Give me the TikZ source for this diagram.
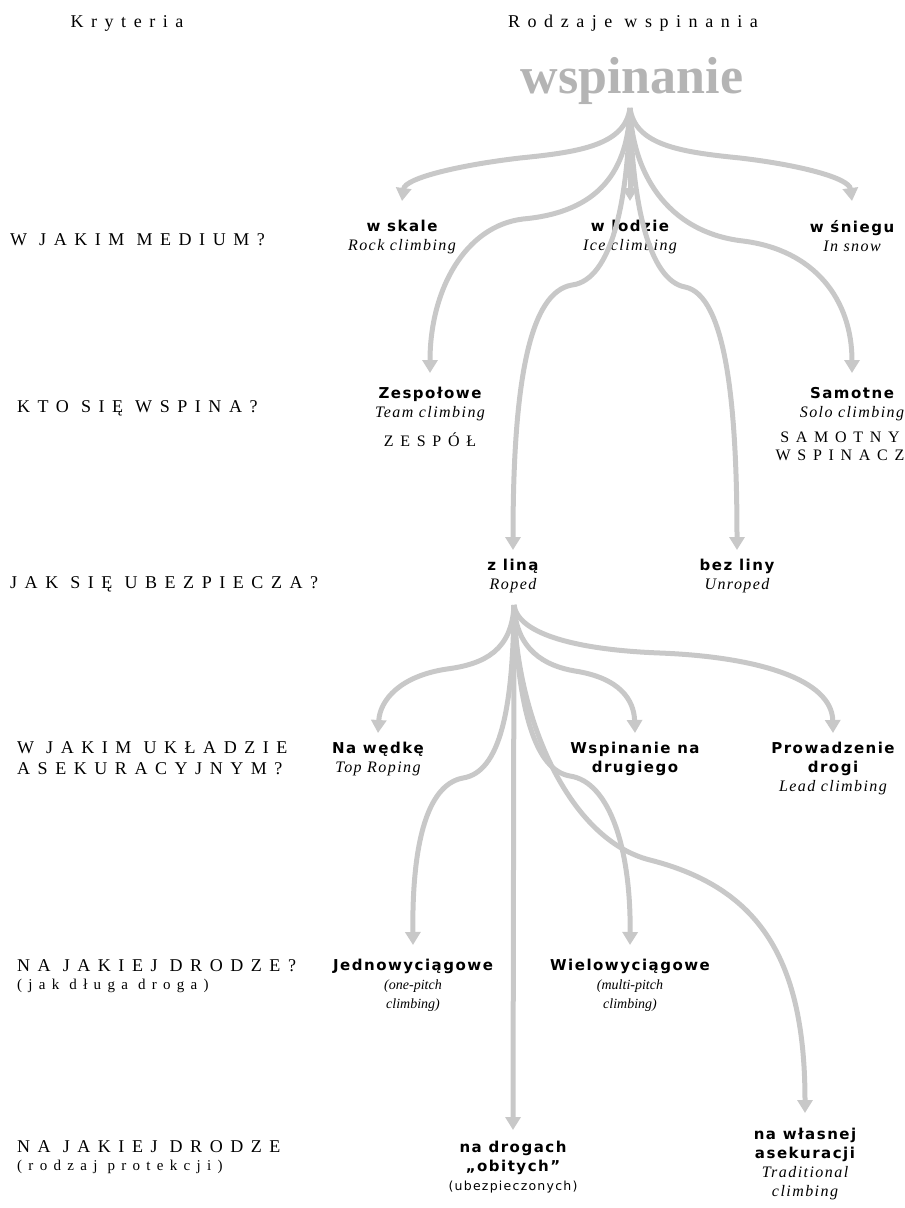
\documentclass[tikz,border=0pt]{standalone}
\usepackage{fontspec}
\setmainfont{Liberation Serif}
\newfontfamily\labelfont[LetterSpace=10]{DejaVu Sans}
\newfontfamily\critfont[LetterSpace=42]{Liberation Serif}
\newfontfamily\engfont[LetterSpace=9]{Liberation Serif}
\usetikzlibrary{arrows.meta,positioning}
\definecolor{ropegray}{RGB}{200,200,200}
\definecolor{rootgray}{RGB}{180,180,180}
\newcommand{\entxt}[1]{{\engfont\mdseries\itshape\fontsize{16}{19}\selectfont #1}}
\newcommand{\pitchtxt}[1]{{\rmfamily\mdseries\itshape\fontsize{14}{19}\selectfont #1}}

\begin{document}
\begin{tikzpicture}[x=1pt,y=-1pt,
    head/.style={anchor=base, inner sep=0pt, font=\critfont\fontsize{18}{21}\selectfont},
    crit/.style={anchor=north west, inner sep=0pt, align=left,
                 font=\critfont\fontsize{18}{21}\selectfont, execute at begin node=\strut},
    critc/.style={anchor=north, inner sep=0pt, align=center,
                  font=\critfont\fontsize{16}{21}\selectfont, execute at begin node=\strut},
    kind/.style={anchor=north, inner sep=0pt, align=center,
                 font=\labelfont\bfseries\fontsize{15}{19}\selectfont, execute at begin node=\strut},
    rope/.style={-{Triangle[length=13pt,width=15pt]}, line width=5pt, draw=ropegray}
  ]
    \useasboundingbox (0,0) rectangle (905,1208);
    % headings
    \node[head] (kryt) at (127,27) {Kryteria};
    \node[head] (rodz) at (633,27) {Rodzaje wspinania};
    \node[anchor=base, inner sep=0pt, text=rootgray,
          font=\bfseries\fontsize{52}{52}\selectfont] (root) at (632,93) {wspinanie};
    % criteria column
    \node[crit] (q1) at (10,231) {W JAKIM MEDIUM?};
    \node[crit] (q2) at (17,398) {KTO SIĘ WSPINA?};
    \node[crit] (q3) at (10,574) {JAK SIĘ UBEZPIECZA?};
    \node[crit] (q4) at (17,741) {W JAKIM UKŁADZIE\\ASEKURACYJNYM?};
    \node[crit] (q5) at (17,959) {NA JAKIEJ DRODZE?\\[-3pt]{\fontsize{15}{16}\selectfont (jak długa droga)}};
    \node[crit] (q6) at (17,1140) {NA JAKIEJ DRODZE\\[-3pt]{\fontsize{15}{16}\selectfont (rodzaj protekcji)}};
    % kinds of climbing
    \node[kind] (skale) at (402,220) {w skale\\\entxt{Rock climbing}};
    \node[kind] (lodzie) at (630,220) {w lodzie\\\entxt{Ice climbing}};
    \node[kind] (sniegu) at (852,220) {w śniegu\\\entxt{In snow}};
    \node[kind] (zesp) at (430,387) {Zespołowe\\\entxt{Team climbing}};
    \node[critc, below=8pt of zesp] (zespol) {ZESPÓŁ};
    \node[kind] (samot) at (852,387) {Samotne\\\entxt{Solo climbing}};
    \node[critc, below=8pt of samot, xshift=-12pt] (samotny) {SAMOTNY\\[-3pt]WSPINACZ};
    \node[kind] (zlina) at (513,559) {z liną\\\entxt{Roped}};
    \node[kind] (bez) at (737,559) {bez liny\\\entxt{Unroped}};
    \node[kind] (wedka) at (378,742) {Na wędkę\\\entxt{Top Roping}};
    \node[kind] (drugi) at (635,742) {Wspinanie na\\drugiego};
    \node[kind] (prow) at (833,742) {Prowadzenie\\drogi\\\entxt{Lead climbing}};
    \node[kind] (jedno) at (413,959) {Jednowyciągowe\\\pitchtxt{(one-pitch}\\\pitchtxt{climbing)}};
    \node[kind] (wielo) at (630,959) {Wielowyciągowe\\\pitchtxt{(multi-pitch}\\\pitchtxt{climbing)}};
    \node[kind] (obite) at (513,1141) {na drogach\\„obitych”\\{\mdseries\fontsize{12.5}{19}\selectfont (ubezpieczonych)}};
    \node[kind] (wlasna) at (805,1128) {na własnej\\asekuracji\\\entxt{Traditional}\\\entxt{climbing}};
    \coordinate (hub) at (630,108);
    \coordinate (hub2) at (514,605);
    % top fan
    \draw[rope] (hub) .. controls (625,145) and (580,152) .. (520,158) .. controls (460,165) and (405,178) .. ([yshift=19pt]skale.north);
    \draw[rope] (hub) -- ([yshift=19pt]lodzie.north);
    \draw[rope] (hub) .. controls (635,145) and (680,152) .. (740,158) .. controls (800,165) and (849,178) .. ([yshift=19pt]sniegu.north);
    \draw[rope] (hub) .. controls (628,170) and (600,212) .. (523,219) .. controls (465,226) and (430,290) .. ([yshift=14pt]zesp.north);
    \draw[rope] (hub) .. controls (628,200) and (612,280) .. (572,285) .. controls (530,292) and (513,380) .. ([yshift=9pt]zlina.north);
    \draw[rope] (hub) .. controls (632,200) and (648,280) .. (685,287) .. controls (725,295) and (737,400) .. ([yshift=9pt]bez.north);
    \draw[rope] (hub) .. controls (632,170) and (665,232) .. (743,241) .. controls (815,250) and (852,300) .. ([yshift=14pt]samot.north);
    % fan below z lina
    \draw[rope] (hub2) .. controls (512,650) and (485,664) .. (447,669) .. controls (400,676) and (380,700) .. ([yshift=9pt]wedka.north);
    \draw[rope] (hub2) .. controls (516,650) and (545,666) .. (575,671) .. controls (620,678) and (634,700) .. ([yshift=9pt]drugi.north);
    \draw[rope] (hub2) .. controls (518,635) and (580,650) .. (660,653) .. controls (760,657) and (832,680) .. ([yshift=9pt]prow.north);
    \draw[rope] (hub2) .. controls (513,710) and (500,772) .. (463,778) .. controls (425,785) and (412,850) .. ([yshift=14pt]jedno.north);
    \draw[rope] (hub2) -- ([yshift=11pt]obite.north);
    \draw[rope] (hub2) .. controls (518,710) and (535,770) .. (570,776) .. controls (610,782) and (631,850) .. ([yshift=14pt]wielo.north);
    \draw[rope] (hub2) .. controls (516,720) and (570,840) .. (650,860) .. controls (760,888) and (805,960) .. ([yshift=15pt]wlasna.north);
\end{tikzpicture}
\end{document}
